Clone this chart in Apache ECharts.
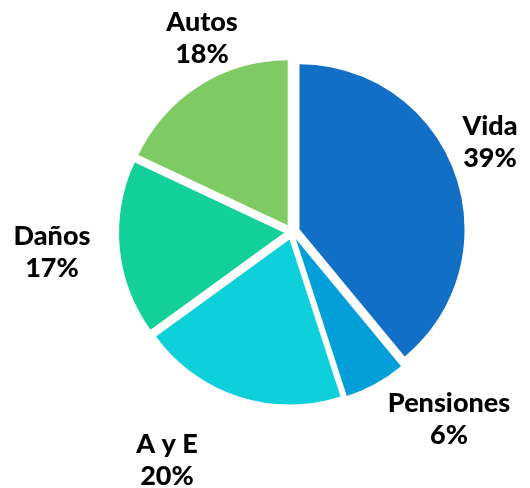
<!DOCTYPE html>
<html>
<head>
<meta charset="utf-8">
<script src="https://cdn.jsdelivr.net/npm/echarts@6/dist/echarts.min.js"></script>
<style>
  html, body {
    margin: 0;
    padding: 0;
    background: #fff;
  }
  #chart {
    width: 530px;
    height: 488px;
  }
</style>
</head>
<body>
<div id="chart"></div>
<script>
// ramos (en orden de las agujas del reloj, desde arriba)
const categories = ["Vida", "Pensiones", "A y E", "Daños", "Autos"];
const shares = [39, 6, 20, 17, 18];
const colors = ["#116fc6", "#039fd8", "#0dd0db", "#13cf98", "#7eca63"];

// donde van las etiquetas (centro del bloque de texto)
const labelPos = [
  [490, 142],
  [449, 419],
  [167, 460],
  [52, 252],
  [202, 38],
];

const chart = echarts.init(document.getElementById("chart"));
chart.setOption({
  animation: false,
  // etiquetas como texto suelto, el pie no deja colocarlas donde queremos
  graphic: categories.map((name, i) => ({
    type: "text",
    x: labelPos[i][0],
    y: labelPos[i][1],
    silent: true,
    style: {
      text: name + "\n" + shares[i] + "%",
      fontFamily: "Lato",
      fontWeight: 900,
      fontSize: 27,
      lineHeight: 32,
      fill: "#000",
      align: "center",
      verticalAlign: "middle",
    },
  })),
  series: [
    {
      type: "pie",
      center: [292, 232],
      radius: 165,
      startAngle: 90,
      clockwise: true,
      selectedMode: "multiple",
      selectedOffset: 8,
      emphasis: { disabled: true },
      label: { show: false },
      labelLine: { show: false },
      data: categories.map((name, i) => ({
        name: name,
        value: shares[i],
        selected: true,
        itemStyle: { color: colors[i] },
      })),
    },
  ],
});
</script>
</body>
</html>
